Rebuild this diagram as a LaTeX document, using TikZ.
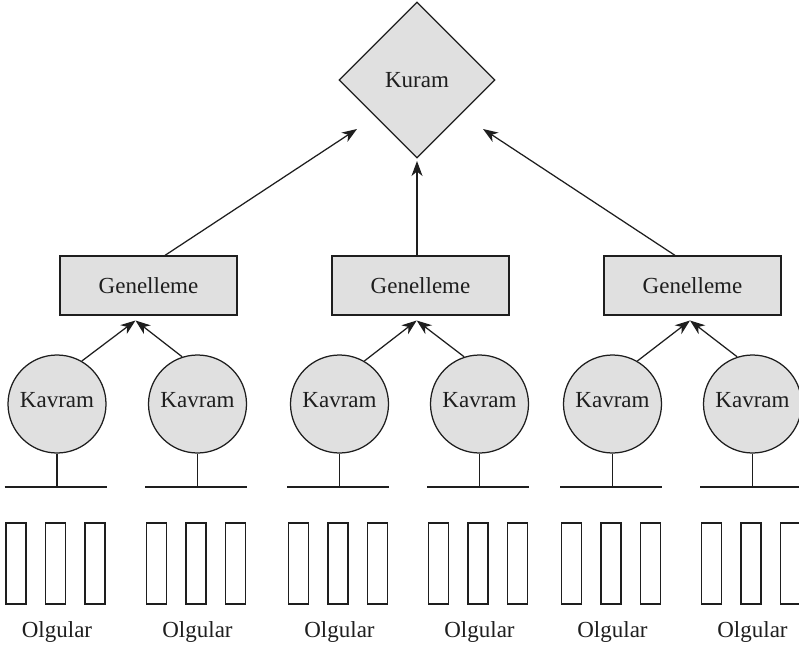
\documentclass[tikz,border=0pt]{standalone}
\usepackage{fontspec}
\setmainfont{Liberation Serif}
\usetikzlibrary{shapes.geometric,arrows.meta}
\definecolor{boxgray}{RGB}{224,224,224}
\definecolor{inkgray}{RGB}{30,30,30}
\begin{document}
\begin{tikzpicture}[x=1pt,y=-1pt, line width=1.25pt, draw=inkgray,
 every node/.style={font=\fontsize{23}{27}\selectfont, text=inkgray},
 kuram/.style={diamond, draw=inkgray, fill=boxgray, minimum width=156pt, minimum height=156pt, inner sep=0pt},
 genbox/.style={rectangle, draw=inkgray, fill=boxgray, minimum width=177pt, minimum height=59pt, inner sep=0pt},
 kavram/.style={circle, draw=inkgray, fill=boxgray, minimum size=98pt, inner sep=0pt},
 olgu/.style={rectangle, draw=inkgray, minimum width=20pt, minimum height=81pt, inner sep=0pt},
 arr/.style={-{Stealth[length=15pt,width=11pt,inset=4.5pt]}}
]
\useasboundingbox (0,0) rectangle (799,647);

% top
\node[kuram] (kuram) at (417,80) {Kuram};

% generalisation boxes
\node[genbox] (g1) at (148.5,285.5) {Genelleme\hspace{12pt}};
\node[genbox] (g2) at (420.5,285.5) {Genelleme\hspace{12pt}};
\node[genbox] (g3) at (692.5,285.5) {Genelleme\hspace{12pt}};

\coordinate (tL) at (357,129);
\coordinate (tM) at (417,161);
\coordinate (tR) at (483,129);
\draw[arr] ([xshift=16.5pt]g1.north) -- (tL);
\draw[arr] ([xshift=-3.5pt]g2.north) -- (tM);
\draw[arr] ([xshift=-17.5pt]g3.north) -- (tR);

% concepts and cases
\foreach \i/\cx in {1/57,2/197.5,3/339.5,4/479.5,5/612.5,6/752.5}{
  \node[kavram] (k\i) at (\cx,404) {Kavram\rule[-8pt]{0pt}{8pt}};
  \coordinate (bar\i) at (\cx-1.5,487);
  \draw (k\i.south) -- (k\i.south |- bar\i);
  \draw ([xshift=-51pt]bar\i) -- ([xshift=51pt]bar\i);
  \node[olgu] (o\i a) at (\cx-41,563.5) {};
  \node[olgu] (o\i b) at (\cx-1.5,563.5) {};
  \node[olgu] (o\i c) at (\cx+38,563.5) {};
  \node[anchor=base] (l\i) at (\cx,637) {Olgular};
}

\coordinate (c1) at (135.5,320.5);
\coordinate (c2) at (416.7,320.5);
\coordinate (c3) at (690,320.5);
\draw[arr] (k1.60) -- (c1);
\draw[arr] (k2.108) -- (c1);
\draw[arr] (k3.60) -- (c2);
\draw[arr] (k4.108) -- (c2);
\draw[arr] (k5.60) -- (c3);
\draw[arr] (k6.108) -- (c3);
\end{tikzpicture}
\end{document}
